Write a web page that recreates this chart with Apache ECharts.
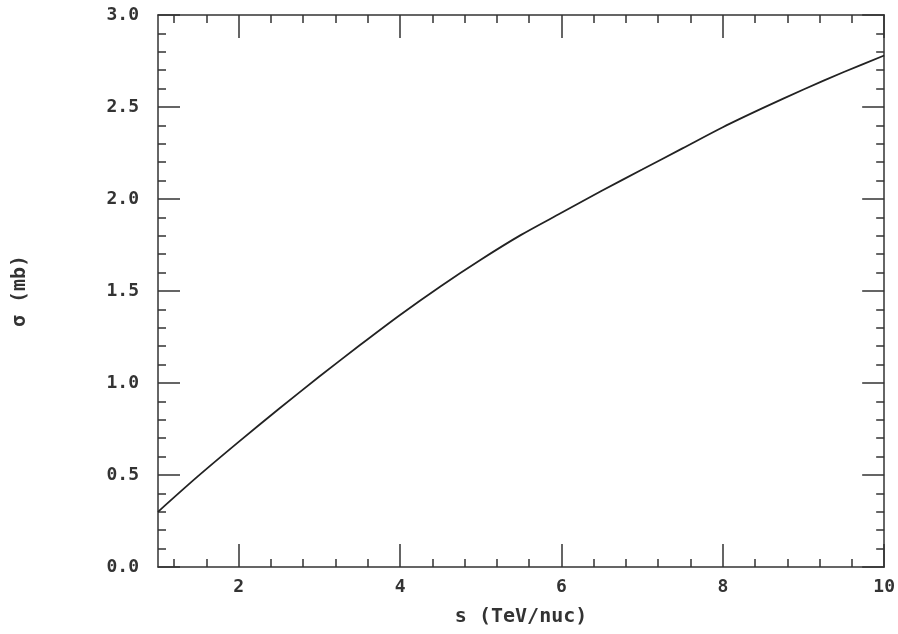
<!DOCTYPE html>
<html>
<head>
<meta charset="utf-8">
<script src="https://cdn.jsdelivr.net/npm/echarts@6/dist/echarts.min.js"></script>
<style>html,body{margin:0;padding:0;background:#fff;}#c{width:898px;height:634px;}</style>
</head>
<body>
<div id="c"></div>
<script>
// Data
const energy = [1, 1.5, 2, 2.5, 3, 3.5, 4, 4.5, 5, 5.5, 6, 6.5, 7, 7.5, 8, 8.5, 9, 9.5, 10];
const sigma = [0.30, 0.495, 0.68, 0.86, 1.035, 1.205, 1.37, 1.525, 1.67, 1.805, 1.925, 2.045, 2.16, 2.275, 2.39, 2.495, 2.595, 2.69, 2.78];
const xMajorTicks = [2, 4, 6, 8, 10];
const xMinorTicks = [1.2, 1.6, 2.4, 2.8, 3.2, 3.6, 4.4, 4.8, 5.2, 5.6, 6.4, 6.8, 7.2, 7.6, 8.4, 8.8, 9.2, 9.6];
const xTitle = 's (TeV/nuc)';
const yTitle = 'σ (mb)';

const lineColor = '#333';
const mono = '"DejaVu Sans Mono", monospace';

function xAx(pos, ticks, len, labels, line) {
  return {
    type: 'value', position: pos, min: 1, max: 10,
    axisLine: { show: line, onZero: false, lineStyle: { color: lineColor, width: 1.5 } },
    axisTick: { show: true, inside: true, length: len, customValues: ticks, lineStyle: { color: lineColor, width: 1.5 } },
    axisLabel: labels ? { show: true, customValues: xMajorTicks, margin: 11, color: '#333', fontFamily: mono, fontWeight: 'bold', fontSize: 18 } : { show: false },
    splitLine: { show: false }
  };
}
function yAx(pos, labels) {
  return {
    type: 'value', position: pos, min: 0, max: 3, interval: 0.5,
    axisLine: { show: true, onZero: false, lineStyle: { color: lineColor, width: 1.5 } },
    axisTick: { show: true, inside: true, length: 22, lineStyle: { color: lineColor, width: 1.5 } },
    minorTick: { show: true, splitNumber: 5, length: 8, lineStyle: { color: lineColor, width: 1.5 } },
    axisLabel: labels ? { show: true, margin: 19, color: '#333', fontFamily: mono, fontWeight: 'bold', fontSize: 18, formatter: v => v.toFixed(1) } : { show: false },
    splitLine: { show: false },
    minorSplitLine: { show: false }
  };
}

const xAxes = [
  xAx('bottom', xMajorTicks, 23, true, true),
  xAx('bottom', xMinorTicks, 8, false, false),
  xAx('top', xMajorTicks, 23, false, true),
  xAx('top', xMinorTicks, 8, false, false)
];
xAxes[0].name = xTitle;
xAxes[0].nameLocation = 'middle';
xAxes[0].nameGap = 40;
xAxes[0].nameTextStyle = { color: '#333', fontFamily: mono, fontWeight: 'bold', fontSize: 20 };

const yAxes = [yAx('left', true), yAx('right', false)];
yAxes[0].name = yTitle;
yAxes[0].nameLocation = 'middle';
yAxes[0].nameRotate = 90;
yAxes[0].nameGap = 128;
yAxes[0].nameTextStyle = { color: '#333', fontFamily: mono, fontWeight: 'bold', fontSize: 20 };

const chart = echarts.init(document.getElementById('c'), null, { renderer: 'canvas' });
chart.setOption({
  backgroundColor: '#fff',
  animation: false,
  grid: { left: 158, top: 15, right: 12, bottom: 67, containLabel: false },
  xAxis: xAxes,
  yAxis: yAxes,
  series: [{
    type: 'line',
    xAxisIndex: 0, yAxisIndex: 0,
    data: energy.map((e, i) => [e, sigma[i]]),
    smooth: 0.3,
    showSymbol: false,
    lineStyle: { color: '#222', width: 1.8 }
  }]
});
</script>
</body>
</html>
